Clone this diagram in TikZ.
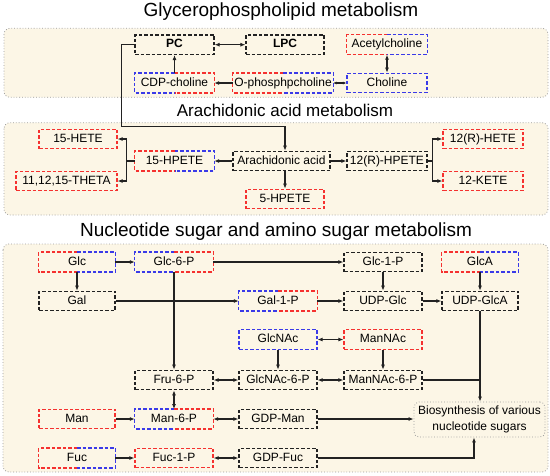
\documentclass[tikz,border=0pt]{standalone}
\usepackage{fontspec}
\setmainfont{Liberation Sans}
\usetikzlibrary{arrows.meta}
\definecolor{cream}{HTML}{FCF6E6}
\definecolor{myred}{HTML}{F5312F}
\definecolor{myblue}{HTML}{3A3AE8}
\definecolor{dk}{HTML}{222222}
\definecolor{pgray}{HTML}{9A9A9A}
\newcommand\splitbox[3]{%
  \draw[dsh,#2] (#1.north) -- (#1.north west) -- (#1.south west) -- (#1.south);
  \draw[dsh,#3] (#1.north) -- (#1.north east) -- (#1.south east) -- (#1.south);}
\begin{document}
\begin{tikzpicture}[x=1pt,y=-1pt,
  dsh/.style={line width=1.2pt, dash pattern=on 3.5pt off 2pt},
  bx/.style={minimum width=#1, minimum height=19.5pt, inner sep=0pt, text height=9pt, text depth=2.5pt, font=\fontsize{12}{14}\selectfont},
  boxk/.style={draw=dk, dsh},
  boxr/.style={draw=myred, dsh},
  boxb/.style={draw=myblue, dsh},
  panel/.style={fill=cream, draw=pgray, line width=0.8pt, dotted, rounded corners=6pt},
  ttl/.style={anchor=base, inner sep=0pt},
  ln/.style={line width=1.2pt, draw=dk},
  arr/.style={ln, -{Latex[length=5pt,width=4pt]}},
  darr/.style={ln, {Latex[length=5pt,width=4pt]}-{Latex[length=5pt,width=4pt]}},
  sdarr/.style={ln, {Latex[length=3.5pt,width=3pt]}-{Latex[length=3.5pt,width=3pt]}},
  bio/.style={draw=pgray, dotted, line width=0.8pt, rounded corners=5pt, minimum width=131pt, minimum height=35pt, align=center, font=\fontsize{12}{15.5}\selectfont, fill=cream, inner sep=0pt}
]
\useasboundingbox (0,0) rectangle (550,475);
% panels
\draw[panel] (4,28.3) rectangle (548,97.3);
\draw[panel] (4,122.7) rectangle (548,215);
\draw[panel] (3,244) rectangle (548,472);
% titles
\node[ttl, font=\fontsize{19}{22}\selectfont] (t1) at (281,16.7) {Glycerophospholipid metabolism};
\node[ttl, font=\fontsize{17}{20}\selectfont] (t2) at (285,116.7) {Arachidonic acid metabolism};
\node[ttl, font=\fontsize{19}{22}\selectfont] (t3) at (276,236.7) {Nucleotide sugar and amino sugar metabolism};
% top panel
\node[bx=79,boxk] (pc) at (174.5,44.7) {\textbf{PC}};
\node[bx=78,boxk] (lpc) at (285,44.7) {\textbf{LPC}};
\node[bx=80] (ach) at (387,44.7) {Acetylcholine}; \splitbox{ach}{myred}{myblue}
\node[bx=79] (cdp) at (174.5,83) {CDP-choline}; \splitbox{cdp}{myblue}{myred}
\node[bx=100] (opc) at (283,83) {O-phosphpcholine}; \splitbox{opc}{myred}{myblue}
\node[bx=80,boxb] (cho) at (387,83) {Choline};
\draw[darr] (pc) -- (lpc);
\draw[arr] (cdp) -- (pc);
\draw[arr] (opc) -- (cdp);
\draw[sdarr] (opc) -- (cho);
\draw[darr] (ach) -- (cho);
% middle panel
\node[bx=78,boxr] (hete15) at (78,139) {15-HETE};
\node[bx=101,boxr] (theta) at (66.5,181) {11,12,15-THETA};
\node[bx=79] (hp15) at (174.5,161) {15-HPETE}; \splitbox{hp15}{myred}{myblue}
\node[bx=97,boxk] (aa) at (281.5,161) {Arachidonic acid};
\node[bx=80,boxk] (hp12) at (387,161) {12(R)-HPETE};
\node[bx=80,boxr] (hete12) at (483,139) {12(R)-HETE};
\node[bx=80,boxr] (kete) at (483,181) {12-KETE};
\node[bx=78,boxr] (hp5) at (285,199) {5-HPETE};
\coordinate (aain) at (hp5.north |- aa.north);
\coordinate (bend) at (aain |- 0,126.7);
\draw[arr] (pc.west) -- ++(-13,0) |- (bend) -- (aain);
\draw[arr] (aa) -- (hp15);
\draw[arr] (aa) -- (hp12);
\draw[arr] (aa.south -| hp5.north) -- (hp5.north);
\draw[arr] (hp15.west) -- ++(-8,0) |- (hete15.east);
\draw[arr] (hp15.west) -- ++(-8,0) |- (theta.east);
\draw[arr] (hp12.east) -- ++(5,0) |- (hete12.west);
\draw[arr] (hp12.east) -- ++(5,0) |- (kete.west);
% bottom panel
\node[bx=76] (glc) at (77,262) {Glc}; \splitbox{glc}{myred}{myblue}
\node[bx=78] (g6p) at (174,262) {Glc-6-P}; \splitbox{g6p}{myblue}{myred}
\node[bx=78,boxk] (g1p) at (383,262) {Glc-1-P};
\node[bx=76] (glca) at (480,262) {GlcA}; \splitbox{glca}{myred}{myblue}
\node[bx=76,boxk] (gal) at (77,301) {Gal};
\node[bx=78] (gal1p) at (278,301) {Gal-1-P}; \splitbox{gal1p}{myblue}{myred}
\node[bx=78,boxk] (udpg) at (383,301) {UDP-Glc};
\node[bx=76,boxk] (udpga) at (480,301) {UDP-GlcA};
\node[bx=78,boxb] (glcnac) at (278,339.5) {GlcNAc};
\node[bx=78,boxr] (mannac) at (383,339.5) {ManNAc};
\node[bx=78,boxk] (f6p) at (174,380) {Fru-6-P};
\node[bx=78,boxk] (gn6p) at (278,380) {GlcNAc-6-P};
\node[bx=78,boxk] (mn6p) at (383,380) {ManNAc-6-P};
\node[bx=76,boxr] (man) at (77,419) {Man};
\node[bx=78] (m6p) at (174,419) {Man-6-P}; \splitbox{m6p}{myblue}{myred}
\node[bx=78,boxk] (gdpm) at (278,419) {GDP-Man};
\node[bx=76] (fuc) at (77,458) {Fuc}; \splitbox{fuc}{myred}{myblue}
\node[bx=78,boxr] (f1p) at (174,458) {Fuc-1-P};
\node[bx=78,boxk] (gdpf) at (278,458) {GDP-Fuc};
\node[bio] (bio) at (479.5,419.5) {Biosynthesis of various\\nucleotide sugars};
\draw[arr] (glc) -- (g6p);
\draw[arr] (glc) -- (gal);
\draw[arr] (g6p) -- (g1p);
\draw[arr] (g6p) -- (f6p);
\draw[arr] (g1p) -- (udpg);
\draw[arr] (glca) -- (udpga);
\draw[arr] (gal) -- (gal1p);
\draw[arr] (gal1p) -- (udpg);
\draw[arr] (udpg) -- (udpga);
\draw[darr] (glcnac) -- (mannac);
\draw[arr] (glcnac) -- (gn6p);
\draw[arr] (mannac) -- (mn6p);
\draw[darr] (f6p) -- (gn6p);
\draw[darr] (gn6p) -- (mn6p);
\draw[darr] (f6p) -- (m6p);
\draw[arr] (man) -- (m6p);
\draw[darr] (m6p) -- (gdpm);
\draw[arr] (fuc) -- (f1p);
\draw[darr] (f1p) -- (gdpf);
\draw[arr] (udpga.south) -- (udpga.south |- bio.north);
\draw[ln] (mn6p.east) -- (mn6p.east -| udpga.south);
\draw[arr] (gdpm.east) -- (gdpm.east -| bio.west);
\draw[arr] (gdpf.east) -| ([xshift=-5.5pt]bio.south);
\end{tikzpicture}
\end{document}
